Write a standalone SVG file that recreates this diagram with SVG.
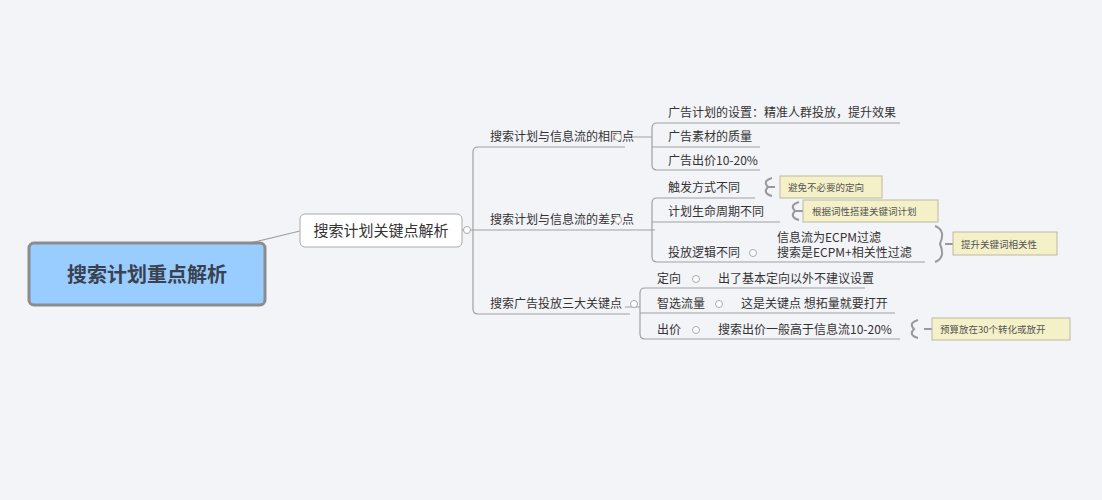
<svg xmlns="http://www.w3.org/2000/svg" width="1102" height="500" viewBox="0 0 1102 500">
<style>
text{font-family:"Noto Sans CJK SC","Liberation Sans",sans-serif;fill:#333}
.t{font-size:12px}
.n{font-size:9.5px;fill:#555}
.ln{stroke:#a0a0a0;stroke-width:1.2;fill:none}
.c{fill:#fff;stroke:#aaa;stroke-width:1}
.note{fill:#f4f0c8;stroke:#bdb9a0;stroke-width:1}
.br{stroke:#999;stroke-width:2;fill:none}
</style>
<rect width="1102" height="500" fill="#f3f4f8"/>
<g id="connectors">
<path class="ln" d="M250 243 L300 231"/>
<path class="ln" d="M462 230 H473 M625 147 H478 Q473 147 473 152 V309 Q473 314 478 314 H630 M473 230 H655"/>
<path class="ln" d="M625 137 H652 M900 123 H657 Q652 123 652 128 V165 Q652 170 657 170 H760 M652 147 H760"/>
<path class="ln" d="M755 198 H657 Q652 198 652 203 V257 Q652 262 657 262 H925 M652 222 H780"/>
<path class="ln" d="M625 307 H640 M865 288 H645 Q640 288 640 293 V334 Q640 339 645 339 H900 M640 313 H895"/>
<path class="br" d="M775 187 H768 M772 178 Q762 181 768 187 Q762 193 772 196"/>
<path class="br" d="M803 211 H795 M799 202 Q789 205 795 211 Q789 217 799 220"/>
<path class="br" d="M953 244 H945 M935 226 Q946 230 940 244 Q946 258 935 262"/>
<path class="br" d="M932 329 H924 M918 320 Q908 323 914 329 Q908 335 918 338"/>
</g>
<g id="root"><rect x="29" y="243" width="236" height="62" rx="5" fill="#99ccff" stroke="#8c8c8c" stroke-width="3"/>
<text x="147" y="282" text-anchor="middle" style="font-size:20px;font-weight:bold;fill:#3a4250">搜索计划重点解析</text></g>
<g id="main"><rect x="300" y="214" width="162" height="33" rx="5" fill="#fff" stroke="#aaa"/>
<text x="381" y="236" text-anchor="middle" style="font-size:15px">搜索计划关键点解析</text><circle class="c" cx="467" cy="230" r="3.5"/></g>
<g id="b1"><text class="t" x="490" y="141">搜索计划与信息流的相同点</text><circle class="c" cx="618" cy="137" r="3.5"/></g>
<g id="b2"><text class="t" x="490" y="224">搜索计划与信息流的差异点</text><circle class="c" cx="618" cy="220" r="3.5"/></g>
<g id="b3"><text class="t" x="490" y="308">搜索广告投放三大关键点</text><circle class="c" cx="634" cy="304" r="3.5"/></g>
<g id="l1"><text class="t" x="668" y="117">广告计划的设置：精准人群投放，提升效果</text></g>
<g id="l2"><text class="t" x="668" y="141">广告素材的质量</text></g>
<g id="l3"><text class="t" x="668" y="165">广告出价10-20%</text></g>
<g id="l4"><text class="t" x="668" y="192">触发方式不同</text></g>
<g id="l5"><text class="t" x="668" y="216">计划生命周期不同</text></g>
<g id="l6"><text class="t" x="668" y="257">投放逻辑不同</text><circle class="c" cx="753" cy="253" r="3.5"/>
<text class="t" x="777" y="242">信息流为ECPM过滤</text><text class="t" x="777" y="257">搜索是ECPM+相关性过滤</text></g>
<g id="k1"><text class="t" x="657" y="283">定向</text><circle class="c" cx="696" cy="279" r="3.5"/><text class="t" x="718" y="283">出了基本定向以外不建议设置</text></g>
<g id="k2"><text class="t" x="657" y="308">智选流量</text><circle class="c" cx="719" cy="304" r="3.5"/><text class="t" x="741" y="308">这是关键点 想拓量就要打开</text></g>
<g id="k3"><text class="t" x="657" y="334">出价</text><circle class="c" cx="696" cy="330" r="3.5"/><text class="t" x="718" y="334">搜索出价一般高于信息流10-20%</text></g>
<g id="n1"><rect class="note" x="780" y="176" width="102" height="22"/><text class="n" x="788" y="191">避免不必要的定向</text></g>
<g id="n2"><rect class="note" x="803" y="200" width="135" height="22"/><text class="n" x="812" y="215">根据词性搭建关键词计划</text></g>
<g id="n3"><rect class="note" x="953" y="232" width="104" height="23"/><text class="n" x="961" y="248">提升关键词相关性</text></g>
<g id="n4"><rect class="note" x="932" y="318" width="138" height="22"/><text class="n" x="940" y="333">预算放在30个转化或放开</text></g>
</svg>
